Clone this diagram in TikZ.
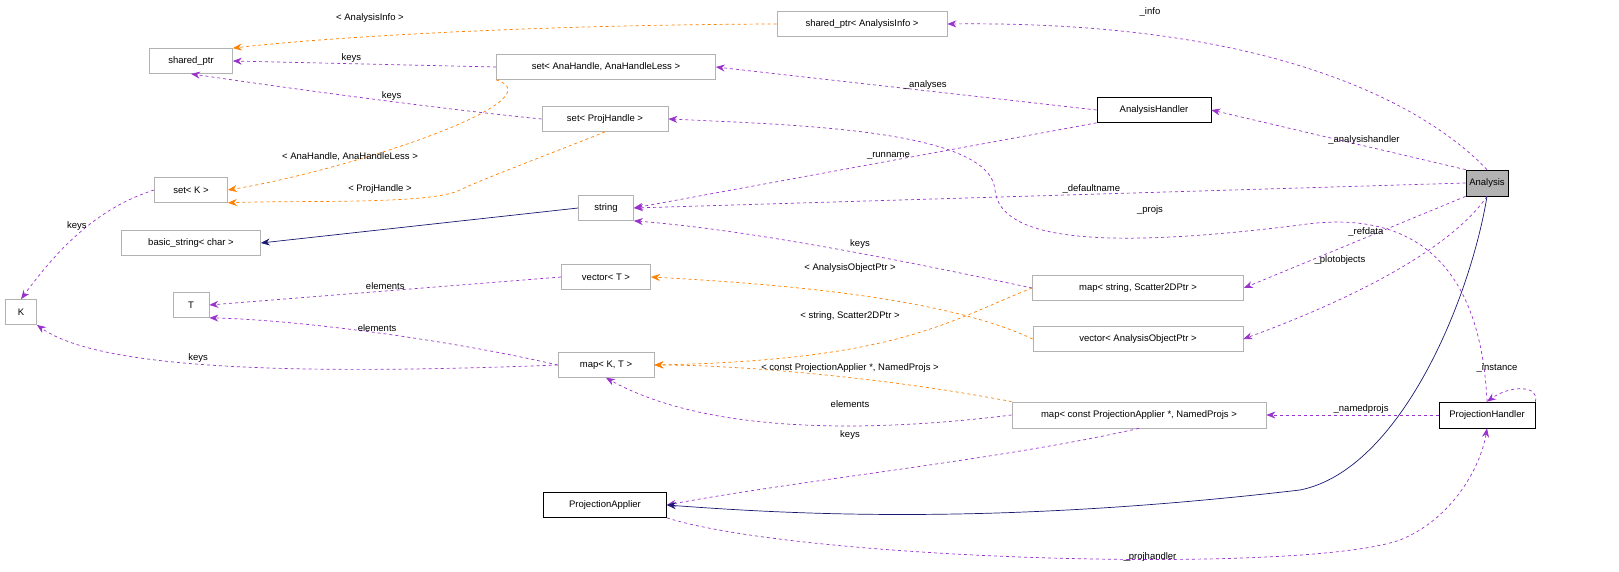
\documentclass[tikz,border=0pt]{standalone}
\usepackage{fontspec}
\setmainfont{Liberation Sans}
\usetikzlibrary{arrows.meta}
\begin{document}
\begin{tikzpicture}[x=1pt,y=-1pt,line width=0.7pt,
 box/.style={draw=black!30,fill=white,inner sep=0pt,font=\fontsize{9.5}{10}\selectfont},
 mbox/.style={draw=black,fill=white,inner sep=0pt,font=\fontsize{9.5}{10}\selectfont},
 lab/.style={font=\fontsize{9.5}{10}\selectfont,inner sep=1pt},
 use/.style={draw={rgb,255:red,153;green,50;blue,204},dashed,-{Stealth[length=9pt,width=7pt]}},
 tpl/.style={draw=orange,dashed,-{Stealth[length=9pt,width=7pt]}},
 inh/.style={draw={rgb,255:red,25;green,25;blue,112},-{Stealth[length=9pt,width=7pt]}}]
\useasboundingbox (0,0) rectangle (1619,572);
\node[mbox,fill=black!30,minimum width=42,minimum height=26] (an) at (1487,183) {Analysis};
\node[box,minimum width=170,minimum height=25] (spai) at (862,24) {shared\_ptr< AnalysisInfo >};
\node[box,minimum width=83,minimum height=25] (sp) at (191,61) {shared\_ptr};
\node[box,minimum width=219,minimum height=25] (sah) at (606,67) {set< AnaHandle, AnaHandleLess >};
\node[mbox,minimum width=114,minimum height=25] (ah) at (1154,110) {AnalysisHandler};
\node[box,minimum width=126,minimum height=25] (sph) at (605,119) {set< ProjHandle >};
\node[box,minimum width=73,minimum height=25] (sk) at (191,190) {set< K >};
\node[box,minimum width=55,minimum height=25] (str) at (606,208) {string};
\node[box,minimum width=139,minimum height=25] (bs) at (191,243) {basic\_string< char >};
\node[box,minimum width=89,minimum height=25] (vt) at (606,277) {vector< T >};
\node[box,minimum width=36,minimum height=25] (T) at (191,305) {T};
\node[box,minimum width=31,minimum height=25] (K) at (21,312) {K};
\node[box,minimum width=211,minimum height=25] (ms) at (1138,288) {map< string, Scatter2DPtr >};
\node[box,minimum width=210,minimum height=25] (va) at (1138,339) {vector< AnalysisObjectPtr >};
\node[box,minimum width=96,minimum height=25] (mkt) at (606,365) {map< K, T >};
\node[box,minimum width=254,minimum height=26] (mpa) at (1139,415) {map< const ProjectionApplier *, NamedProjs >};
\node[mbox,minimum width=96,minimum height=26] (ph) at (1487,415) {ProjectionHandler};
\node[mbox,minimum width=123,minimum height=25] (pa) at (605,505) {ProjectionApplier};

\draw[tpl] (spai.west) .. controls (500,25) and (300,40) .. (sp.north east);
\node[lab] at (370,18) {< AnalysisInfo >};
\draw[use] (an.north) .. controls (1440,120) and (1300,20) .. (spai.east);
\node[lab] at (1150,12) {\_info};
\draw[use] (sah.west) -- node[lab,above,pos=0.55]{keys} (sp.east);
\draw[use] (sph.west) .. controls (450,110) and (300,90) .. node[lab,above,pos=0.45]{keys} (sp.south);
\draw[use] (ah.west) -- node[lab,above,pos=0.45]{\_analyses} (sah.east);
\draw[use] (an.north west) -- node[lab,above,pos=0.4]{\_analysishandler} (ah.east);
\draw[tpl] (sah.south west) .. controls (560,100) and (350,170) .. (sk.east);
\node[lab] at (350,157) {< AnaHandle, AnaHandleLess >};
\draw[tpl] (sph.south) .. controls (560,150) and (480,180) .. (460,190) .. controls (430,205) and (300,200) .. (sk.south east);
\node[lab] at (380,189) {< ProjHandle >};
\draw[use] (ah.south west) -- node[lab,above,pos=0.45]{\_runname} (str.east);
\draw[use] (an.west) -- node[lab,above,pos=0.45]{\_defaultname} (str.east);
\draw[use] (ph.north) .. controls (1480,250) and (1400,210) .. (1300,225) .. controls (1100,250) and (1000,240) .. (995,190) .. controls (990,130) and (800,125) .. (sph.east);
\node[lab] at (1150,210) {\_projs};
\draw[inh] (str.west) -- (bs.east);
\draw[use] (sk.west) .. controls (90,210) and (50,260) .. node[lab,left,pos=0.4]{keys} (K.north);
\draw[use] (ms.west) .. controls (900,260) and (750,230) .. (str.south east);
\node[lab] at (860,244) {keys};
\draw[use] (an.south west) -- node[lab,above,pos=0.45]{\_refdata} (ms.east);
\draw[use] (an.south) .. controls (1450,250) and (1350,300) .. (va.east);
\node[lab] at (1340,260) {\_plotobjects};
\draw[use] (vt.west) -- node[lab,above,pos=0.5]{elements} (T.east);
\draw[tpl] (va.west) .. controls (950,300) and (800,285) .. (vt.east);
\node[lab] at (850,268) {< AnalysisObjectPtr >};
\draw[use] (mkt.west) .. controls (450,340) and (300,320) .. node[lab,above,pos=0.5]{elements} (T.south east);
\draw[use] (mkt.west) .. controls (300,375) and (100,370) .. node[lab,above,pos=0.55]{keys} (K.south east);
\draw[tpl] (ms.west) .. controls (950,320) and (900,360) .. (mkt.east);
\node[lab] at (850,316) {< string, Scatter2DPtr >};
\draw[tpl] (mpa.north west) .. controls (900,380) and (750,365) .. (mkt.east);
\node[lab] at (850,368) {< const ProjectionApplier *, NamedProjs >};
\draw[use] (mpa.west) .. controls (850,435) and (700,430) .. (mkt.south);
\node[lab] at (850,404) {elements};
\draw[use] (mpa.south) .. controls (1000,460) and (800,480) .. (pa.east);
\node[lab] at (850,435) {keys};
\draw[use] (ph.west) -- node[lab,above,pos=0.45]{\_namedprojs} (mpa.east);
\draw[use] (ph.north east) .. controls (1540,385) and (1510,385) .. (ph.north);
\node[lab] at (1497,368) {\_instance};
\draw[inh] (an.south) .. controls (1470,300) and (1400,470) .. (1300,490) .. controls (1000,525) and (800,515) .. (pa.east);
\draw[use] (pa.south east) .. controls (800,560) and (1300,575) .. (1400,540) .. controls (1450,520) and (1480,470) .. (ph.south);
\node[lab] at (1150,557) {\_projhandler};
\end{tikzpicture}
\end{document}
